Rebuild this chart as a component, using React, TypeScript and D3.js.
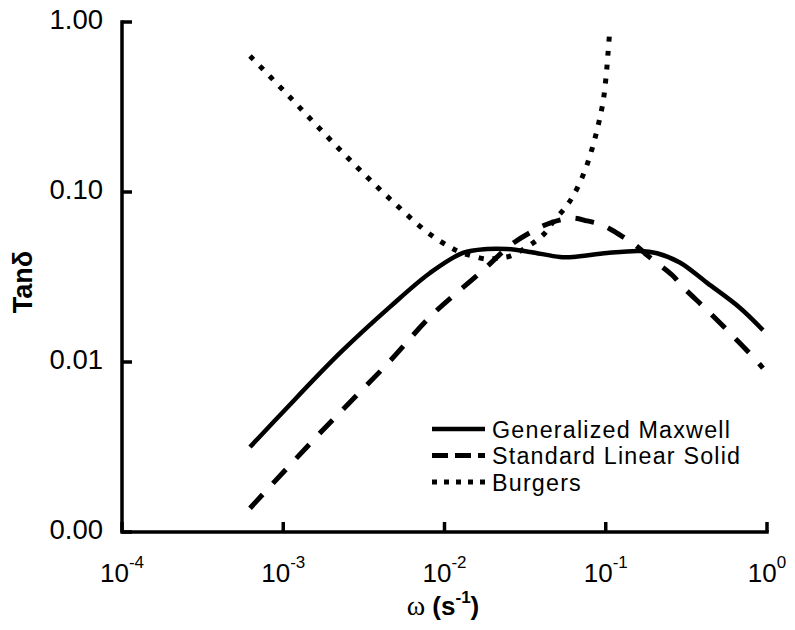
import React from "react";
import * as d3 from "d3";

// ---- data ----
const xTickExps = [-4, -3, -2, -1, 0];
const yTickValues = [0.001, 0.01, 0.1, 1];
const yTickLabels = ["0.00", "0.01", "0.10", "1.00"];

const gmOmega = [6.22e-4, 1.0e-3, 2.25e-3, 4.59e-3, 8.13e-3, 1.3e-2, 1.84e-2, 2.44e-2, 3.39e-2, 5.2e-2, 6.27e-2, 0.102, 0.163, 0.208, 0.288, 0.425, 0.681, 0.944];
const gmTan = [0.00316, 0.0051, 0.0113, 0.0211, 0.0334, 0.0438, 0.0462, 0.0462, 0.0444, 0.0415, 0.0415, 0.0438, 0.045, 0.0436, 0.0385, 0.0292, 0.0208, 0.0154];

const slsOmega = [6.22e-4, 1.69e-3, 4.47e-3, 8.36e-3, 1.66e-2, 2.62e-2, 3.54e-2, 4.51e-2, 6.27e-2, 7.66e-2, 9.21e-2, 0.109, 0.128, 0.152, 0.18, 0.208, 0.258, 0.301, 0.425, 0.598, 0.843, 0.944];
const slsTan = [0.00138, 0.00382, 0.00986, 0.0189, 0.0334, 0.0494, 0.059, 0.0657, 0.0703, 0.0676, 0.0648, 0.0598, 0.0544, 0.0488, 0.0426, 0.0382, 0.0325, 0.0276, 0.0202, 0.0146, 0.0104, 0.0092];

const burOmega = [6.22e-4, 1.026e-3, 1.667e-3, 2.786e-3, 4.59e-3, 7.79e-3, 1.08e-2, 1.285e-2, 1.5e-2, 1.84e-2, 2.15e-2, 2.55e-2, 3.54e-2, 4.2e-2, 4.71e-2, 5.58e-2, 6.27e-2, 7.33e-2, 8.22e-2, 8.95e-2, 9.62e-2, 0.1004, 0.1033, 0.1062];
const burTan = [0.631, 0.387, 0.238, 0.144, 0.091, 0.0582, 0.0475, 0.0438, 0.042, 0.0403, 0.041, 0.042, 0.0501, 0.0574, 0.0666, 0.0805, 0.0947, 0.1294, 0.179, 0.244, 0.338, 0.475, 0.657, 0.922];

const seriesNames = ["Generalized Maxwell", "Standard Linear Solid", "Burgers"];

const FONT = "'Liberation Sans', Arial, Helvetica, sans-serif";

export default function App() {
  const W = 795, H = 630;
  const x = d3.scaleLog().domain([1e-4, 1]).range([122, 767]);
  const y = d3.scaleLog().domain([0.001, 1]).range([532, 22]);

  const line = d3
    .line<[number, number]>()
    .x((d) => x(d[0]))
    .y((d) => y(d[1]))
    .curve(d3.curveCatmullRom.alpha(0.5));

  const zip = (a: number[], b: number[]) => a.map((v, i) => [v, b[i]] as [number, number]);

  const series = [
    { name: seriesNames[0], pts: zip(gmOmega, gmTan), dash: undefined as string | undefined, w: 4.5, legDash: undefined as string | undefined },
    { name: seriesNames[1], pts: zip(slsOmega, slsTan), dash: "19,15", w: 5, legDash: "16,7" },
    { name: seriesNames[2], pts: zip(burOmega, burTan), dash: "5,9", w: 5, legDash: "5,7" },
  ];

  const x0 = x.range()[0], x1 = x.range()[1];
  const yTop = y.range()[1], yBot = y.range()[0];
  const tickLen = 10;
  const axisW = 3.5;

  return (
    <svg width={W} height={H} style={{ position: "absolute", left: 0, top: 0, background: "#fff" }} fontFamily={FONT}>
      <rect x={0} y={0} width={W} height={H} fill="#fff" />
      {/* axes */}
      <path d={`M${x0},${yTop} V${yBot} H${x1}`} fill="none" stroke="#000" strokeWidth={axisW} strokeLinejoin="miter" strokeLinecap="square" />
      {yTickValues.map((v, i) => (
        <g key={"yt" + i}>
          <line x1={x0} x2={x0 + tickLen} y1={y(v)} y2={y(v)} stroke="#000" strokeWidth={axisW} />
          <text x={103} y={y(v) + 6.5} textAnchor="end" fontSize={27.5} fill="#000">
            {yTickLabels[i]}
          </text>
        </g>
      ))}
      {xTickExps.map((e) => {
        const v = Math.pow(10, e);
        return (
          <g key={"xt" + e}>
            <line x1={x(v)} x2={x(v)} y1={yBot} y2={yBot - tickLen} stroke="#000" strokeWidth={axisW} />
            <text x={x(v)} y={582} textAnchor="middle" fontSize={26} fill="#000">
              10
              <tspan fontSize={17} dy={-14}>{String(e)}</tspan>
            </text>
          </g>
        );
      })}
      {/* axis titles */}
      <text x={443} y={615} textAnchor="middle" fontSize={26} fontWeight="bold" fill="#000">
        <tspan fontFamily="'Liberation Serif', 'Times New Roman', serif" fontWeight="normal" fontSize={28}>ω</tspan>
        {" (s"}
        <tspan fontSize={17} dy={-12}>-1</tspan>
        <tspan dy={12}>)</tspan>
      </text>
      <text transform="translate(32,282) rotate(-90)" textAnchor="middle" fontSize={27} fontWeight="bold" fill="#000">
        Tanδ
      </text>
      {/* curves */}
      {series.map((s, i) => (
        <path key={"s" + i} d={line(s.pts) || ""} fill="none" stroke="#000" strokeWidth={s.w} strokeDasharray={s.dash} strokeLinecap="butt" />
      ))}
      {/* legend */}
      {series.map((s, i) => {
        const ly = 429 + i * 26.5;
        return (
          <g key={"lg" + i}>
            <line x1={432} x2={485} y1={ly} y2={ly} stroke="#000" strokeWidth={s.w} strokeDasharray={s.legDash} />
            <text x={492} y={ly + 8.7} fontSize={23.3} letterSpacing={1.2} fill="#000">
              {s.name}
            </text>
          </g>
        );
      })}
    </svg>
  );
}
